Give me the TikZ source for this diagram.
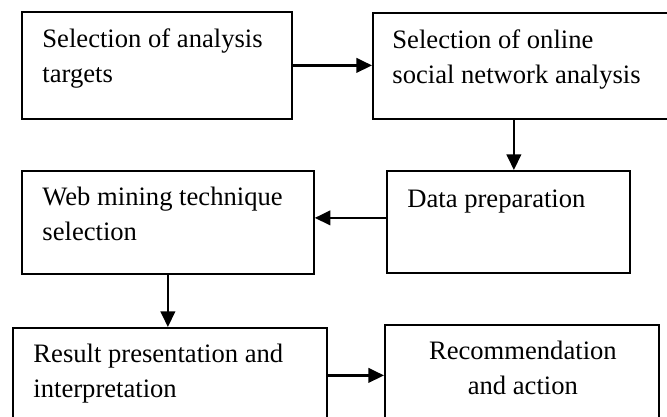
\documentclass[tikz,border=0pt]{standalone}
\usepackage{fontspec}
\setmainfont{Liberation Serif}
\usetikzlibrary{arrows.meta}
\newcommand\pxu{0.451pt}

\begin{document}
\begin{tikzpicture}[x=\pxu, y=-\pxu,
    stage/.style={draw, line width=0.8pt, anchor=north west, inner sep=0pt},
    caption/.style={anchor=north west, align=left, inner sep=0pt,
      font=\fontsize{12pt}{15.8pt}\selectfont},
    flow/.style={line width=1.1pt, -{Triangle[length=7pt, width=6.5pt]}}]
  \useasboundingbox (0,0) rectangle (667,416);

  \node [stage, minimum width=270*\pxu, minimum height=107*\pxu] (selTarget) at (21,11) {};
  \node [stage, minimum width=308*\pxu, minimum height=106*\pxu] (selOnline) at (372,12) {};
  \node [stage, minimum width=292*\pxu, minimum height=103*\pxu] (webMining) at (21,170) {};
  \node [stage, minimum width=243*\pxu, minimum height=102*\pxu] (dataPrep) at (386,170) {};
  \node [stage, minimum width=314*\pxu, minimum height=103*\pxu] (resultPres) at (12,327) {};
  \node [stage, minimum width=274*\pxu, minimum height=106*\pxu] (recAction) at (384,324) {};

  \node [caption] (selTargetText) at ([shift={(21,17)}]selTarget.north west) {Selection of analysis\\targets};
  \node [caption] (selOnlineText) at ([shift={(20,17)}]selOnline.north west) {Selection of online\\social network analysis};
  \node [caption] (webMiningText) at ([shift={(21,17)}]webMining.north west) {Web mining technique\\selection};
  \node [caption] (dataPrepText) at ([shift={(21,19)}]dataPrep.north west) {Data preparation};
  \node [caption] (resultPresText) at ([shift={(21,17)}]resultPres.north west) {Result presentation and\\interpretation};
  \node [caption, anchor=north, align=center] (recActionText) at ([shift={(1,17)}]recAction.north) {Recommendation\\and action};

  \draw [flow] (selTarget.east) -- (selTarget.east -| selOnline.west);
  \draw [flow] ([xshift=5.5*\pxu]dataPrep.north |- selOnline.south) -- ([xshift=5.5*\pxu]dataPrep.north);
  \draw [flow] ([yshift=4*\pxu]dataPrep.west) -- ([yshift=4*\pxu]dataPrep.west -| webMining.east);
  \draw [flow] (webMining.south) -- (webMining.south |- resultPres.north);
  \draw [flow] ([yshift=4*\pxu]resultPres.east) -- ([yshift=4*\pxu]resultPres.east -| recAction.west);
\end{tikzpicture}
\end{document}
